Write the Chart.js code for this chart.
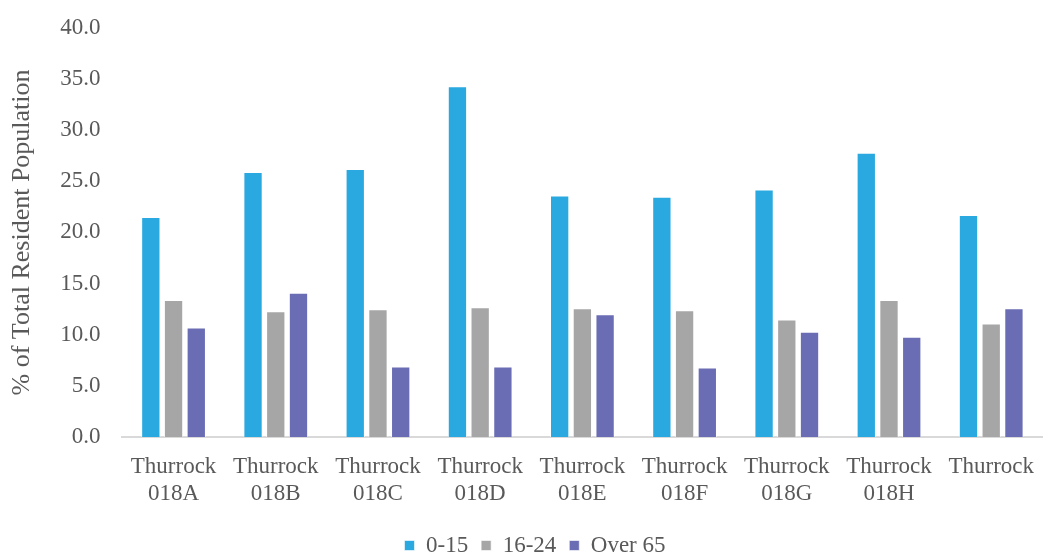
<!DOCTYPE html>
<html>
<head>
<meta charset="utf-8">
<script src="https://cdn.jsdelivr.net/npm/chart.js@4"></script>
<style>
  html, body { margin: 0; padding: 0; background: #fff; }
  #wrap { width: 1043px; height: 553px; }
</style>
</head>
<body>
<div id="wrap"><canvas id="myChart" width="1043" height="553"></canvas></div>
<script>
const categories = [
  ['Thurrock', '018A'], ['Thurrock', '018B'], ['Thurrock', '018C'],
  ['Thurrock', '018D'], ['Thurrock', '018E'], ['Thurrock', '018F'],
  ['Thurrock', '018G'], ['Thurrock', '018H'], ['Thurrock']
];
const age0to15 = [21.5, 25.9, 26.2, 34.3, 23.6, 23.5, 24.2, 27.8, 21.7];
const age16to24 = [13.4, 12.3, 12.5, 12.7, 12.6, 12.4, 11.5, 13.4, 11.1];
const over65 = [10.7, 14.1, 6.9, 6.9, 12.0, 6.8, 10.3, 9.8, 12.6];
const yTicks = [0, 5, 10, 15, 20, 25, 30, 35, 40];

const fontFamily = '"Liberation Serif", "Times New Roman", serif';
const textColor = '#595959';

// nudge the legend a bit right, it sits centred under the plot in the original
const legendShift = {
  id: 'legendShift',
  afterLayout(chart) {
    chart.legend.left += 10;
    chart.legend.right += 10;
  }
};

const ctx = document.getElementById('myChart');
const myChart = new Chart(ctx, {
  type: 'bar',
  data: {
    labels: categories,
    datasets: [
      { label: '0-15', data: age0to15, backgroundColor: '#29a9e0' },
      { label: '16-24', data: age16to24, backgroundColor: '#a6a6a6' },
      { label: 'Over 65', data: over65, backgroundColor: '#6a6db3' }
    ].map(d => Object.assign(d, {
      borderColor: 'rgba(255,255,255,0.6)',
      borderWidth: 1,
      categoryPercentage: 0.667,
      barPercentage: 0.85
    }))
  },
  plugins: [legendShift],
  options: {
    responsive: false,
    animation: false,
    layout: { padding: { top: -6, right: 0, left: 7, bottom: -14 } },
    plugins: {
      tooltip: { enabled: false },
      legend: {
        position: 'bottom',
        labels: {
          boxWidth: 10,
          boxHeight: 10,
          padding: 13,
          color: textColor,
          font: { family: fontFamily, size: 23 }
        }
      }
    },
    scales: {
      x: {
        grid: { display: false },
        border: { color: '#d9d9d9', width: 2 },
        afterFit: axis => { axis.height += 5; },
        ticks: {
          color: textColor,
          maxRotation: 0,
          autoSkip: false,
          padding: 9,
          font: { family: fontFamily, size: 23, lineHeight: 1.15 }
        }
      },
      y: {
        min: 0,
        max: 40,
        afterBuildTicks: axis => { axis.ticks = yTicks.map(v => ({ value: v })); },
        grid: { display: false },
        border: { display: false },
        ticks: {
          color: textColor,
          padding: 14,
          font: { family: fontFamily, size: 23 },
          callback: v => Number(v).toFixed(1)
        },
        title: {
          display: true,
          text: '% of Total Resident Population',
          color: textColor,
          font: { family: fontFamily, size: 26 },
          padding: { top: 0, bottom: 8 }
        }
      }
    }
  }
});
</script>
</body>
</html>
